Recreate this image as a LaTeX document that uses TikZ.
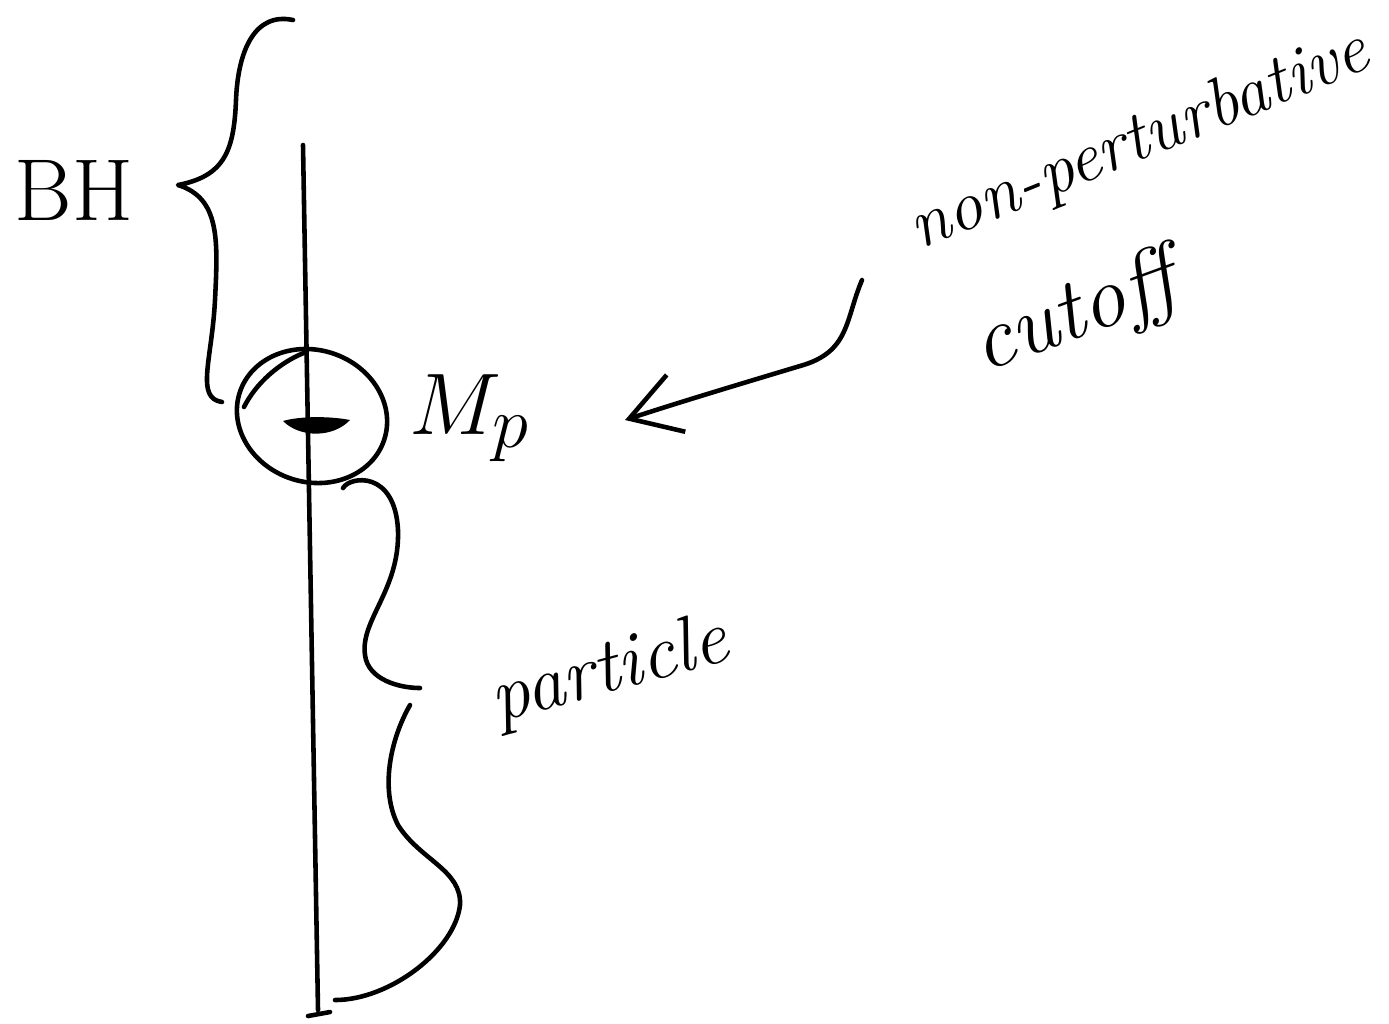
\documentclass[tikz,border=0pt]{standalone}
\usetikzlibrary{arrows.meta}
\begin{document}
\begin{tikzpicture}[x=0.01cm,y=-0.01cm,
  pen/.style={line width=1.3pt, line cap=round, line join=round, black},
  hand/.style={font=\itshape, inner sep=0pt},
  tipbarb/.style={-{Straight Barb[length=14pt,width=17pt,line width=1.3pt]}}]
\useasboundingbox (0,0) rectangle (1389,1023);

% the vertical line
\draw[pen] (303,145) -- (318,1010);
\draw[pen] (308,1016) -- (330,1012);

% the circle around the cutoff point
\draw[pen, rotate around={-18:(312,416)}] (312,416) ellipse [x radius=76, y radius=66];
\draw[pen] (244,407) .. controls (256,383) and (280,362) .. (306,352);
\fill (283,421) .. controls (300,438) and (333,438) .. (350,420)
      .. controls (330,416) and (300,416) .. cycle;

% labels
\node[hand, font=\fontsize{25}{30}\selectfont] (bh) at (74,190) {BH};
\node[inner sep=0pt, font=\fontsize{31}{36}\selectfont] (mp) at (470,418) {$M_p$};
\node[hand, font=\fontsize{20}{24}\selectfont\itshape, rotate=22] (np) at (1140,142) {non-perturbative};
\node[hand, font=\fontsize{25}{30}\selectfont\itshape, rotate=20] (cut) at (1075,316) {cutoff};
\node[hand, font=\fontsize{22}{26}\selectfont\itshape, rotate=15] (part) at (610,672) {particle};

% upper brace (BH)
\draw[pen] (293,20) .. controls (255,12) and (238,50) .. (236,100)
  .. controls (234,150) and (225,176) .. (178,185)
  .. controls (220,198) and (218,240) .. (215,300)
  .. controls (212,360) and (195,398) .. (222,402);

% lower brace (particle)
\draw[pen] (343,488) .. controls (350,476) and (395,470) .. (398,530)
  .. controls (400,590) and (360,620) .. (365,655)
  .. controls (368,680) and (400,688) .. (420,688);
\draw[pen] (410,705) .. controls (390,740) and (380,790) .. (398,825)
  .. controls (420,860) and (462,870) .. (460,905)
  .. controls (455,950) and (390,1000) .. (335,1000);

% arrow from the cutoff label to M_p
\coordinate (arrstart) at (862,280);
\coordinate (arrend) at (625,420);
\draw[pen, tipbarb] (arrstart) .. controls (845,320) and (850,352) .. (800,366)
  .. controls (740,384) and (680,402) .. (arrend);
\end{tikzpicture}
\end{document}
